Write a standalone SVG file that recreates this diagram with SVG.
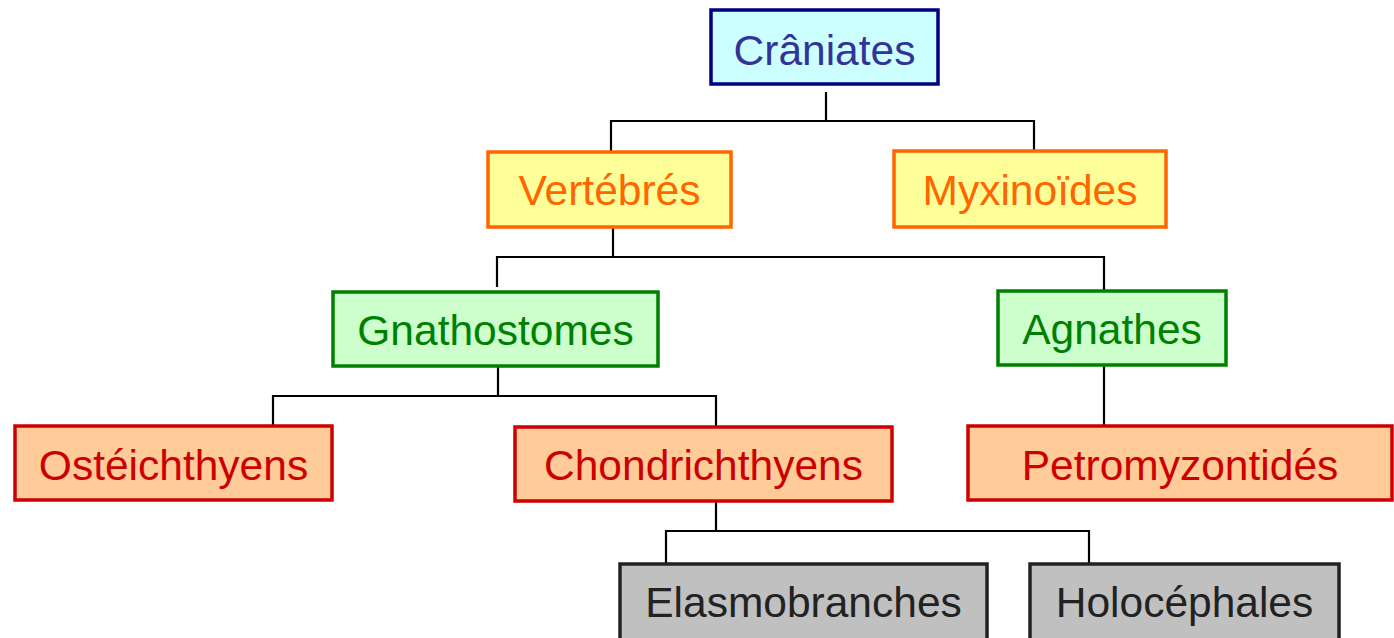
<svg xmlns="http://www.w3.org/2000/svg" width="1394" height="638" viewBox="0 0 1394 638">
<style>
text{font-family:"Liberation Sans",Arial,sans-serif;font-size:42.5px;text-anchor:middle}
rect{stroke-width:3.5}
.blue rect{fill:#CCFFFF;stroke:#000080}
.blue text{fill:#333399}
.yel rect{fill:#FFFF99;stroke:#FF6600}
.yel text{fill:#FF6600}
.grn rect{fill:#CCFFCC;stroke:#008000}
.grn text{fill:#008000}
.red rect{fill:#FFCC99;stroke:#CC0000}
.red text{fill:#CC0000}
.gry rect{fill:#C0C0C0;stroke:#222222}
.gry text{fill:#222222}
#connectors path{fill:none;stroke:#000;stroke-width:2.2}
</style>
<rect width="1394" height="638" fill="#fff"/>
<g id="connectors">
<path d="M826 92V121M611 151V121H1034V151"/>
<path d="M613 227V257M497 287V257H1104V290"/>
<path d="M498 367V396M273 425V396H716V426"/>
<path d="M1104 366V426"/>
<path d="M716 501V531M666 563V531H1089V563"/>
</g>
<g id="craniates" class="blue"><rect x="711" y="10" width="227" height="74"/><text x="824.5" y="65">Crâniates</text></g>
<g id="vertebres" class="yel"><rect x="488" y="152" width="243" height="75"/><text x="609.5" y="205">Vertébrés</text></g>
<g id="myxinoides" class="yel"><rect x="894" y="151" width="272" height="76"/><text x="1030" y="205">Myxinoïdes</text></g>
<g id="gnathostomes" class="grn"><rect x="333" y="292" width="325" height="74"/><text x="495.5" y="345">Gnathostomes</text></g>
<g id="agnathes" class="grn"><rect x="998" y="291" width="228" height="74"/><text x="1112" y="344">Agnathes</text></g>
<g id="osteichthyens" class="red"><rect x="15" y="426" width="317" height="74"/><text x="173.5" y="480">Ostéichthyens</text></g>
<g id="chondrichthyens" class="red"><rect x="515" y="427" width="377" height="74"/><text x="703.5" y="480">Chondrichthyens</text></g>
<g id="petromyzontides" class="red"><rect x="968" y="426" width="424" height="74"/><text x="1180" y="480">Petromyzontidés</text></g>
<g id="elasmobranches" class="gry"><rect x="620" y="564" width="367" height="80"/><text x="803.5" y="617">Elasmobranches</text></g>
<g id="holocephales" class="gry"><rect x="1030" y="564" width="309" height="80"/><text x="1184.5" y="617">Holocéphales</text></g>
</svg>
